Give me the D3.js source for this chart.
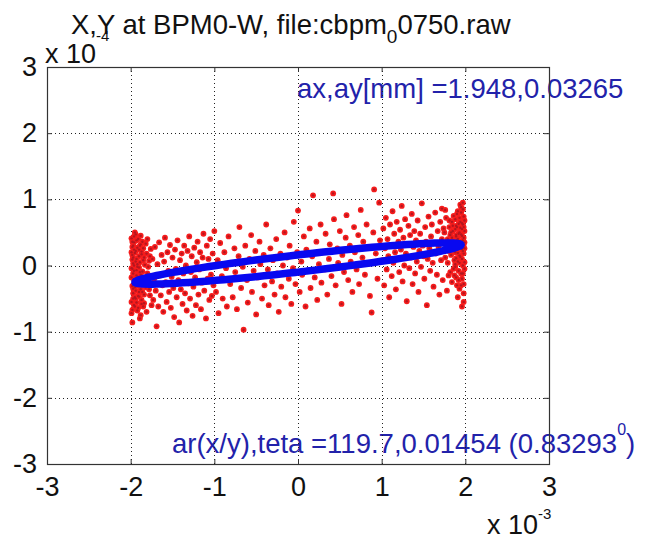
<!DOCTYPE html>
<meta charset="utf-8">
<html>
    <head>
        <script src="https://d3js.org/d3.v7.min.js"></script>
    </head>
    <style>
        body { margin: 0; background: #fff; }
        text { font-family: "Liberation Sans", Arial, sans-serif; }
    </style>
    <body>

        <div id="bpm_viz"></div>

        <script>

            // axis ticks (x in units of 1e-3, y in units of 1e-4)
            var xTicks = [-3, -2, -1, 0, 1, 2, 3]
            var yTicks = [-3, -2, -1, 0, 1, 2, 3]

            // BPM readings, [x, y] (x * 1e-3, y * 1e-4)
            var leftEdge = [
                [-1.98,-0.31],[-1.97,0.12],[-1.99,-0.55],[-1.96,-0.08],[-1.95,0.50],[-1.98,0.28],[-1.97,-0.42],[-1.99,-0.18],[-1.96,0.35],[-1.98,-0.67],
                [-1.95,-0.25],[-1.97,0.03],[-1.99,0.20],[-1.96,-0.60],[-1.98,-0.05],[-1.94,0.22],[-1.97,-0.35],[-1.99,0.41],[-1.95,-0.48],[-1.98,0.09],
                [-1.93,-0.15],[-1.96,0.44],[-1.99,-0.72],[-1.94,-0.38],[-1.97,0.30],[-1.92,-0.02],[-1.95,-0.62],[-1.98,0.16],[-1.93,0.38],[-1.96,-0.21],
                [-1.91,-0.46],[-1.94,0.06],[-1.97,-0.12],[-1.92,0.27],[-1.95,-0.33],[-1.90,0.14],[-1.93,-0.56],[-1.96,0.00],[-1.91,-0.26],[-1.94,0.47],
                [-1.89,-0.10],[-1.92,-0.68],[-1.95,0.19],[-1.90,-0.40],[-1.93,0.10],[-1.88,0.32],[-1.91,-0.18],[-1.94,-0.50],[-1.89,0.05],[-1.92,-0.30],
                [-1.87,-0.58],[-1.90,0.24],[-1.93,-0.07],[-1.88,-0.36],[-1.91,0.40],[-1.86,-0.22],[-1.89,-0.80],[-1.92,0.02],[-1.87,0.17],[-1.90,-0.47],
                [-1.85,0.08],[-1.88,-0.14],[-1.91,-0.64],[-1.86,0.36],[-1.89,-0.29],[-1.84,-0.44],[-1.87,0.21],[-1.90,-0.03],[-1.85,-0.62],[-1.88,0.45],
                [-1.83,-0.20],[-1.86,-0.09],[-1.89,0.30],[-1.84,0.12],[-1.87,-0.52],[-1.82,-0.33],[-1.85,0.26],[-1.88,-0.75],[-1.83,0.01],[-1.86,-0.40],
                [-1.81,0.18],[-1.84,-0.57],[-1.80,-0.12],[-1.82,0.33],[-1.79,-0.27],[-1.81,-0.70],[-1.78,0.07],[-1.80,0.40],[-1.77,-0.45],[-1.79,-0.02],
                [-1.76,0.25],[-1.78,-0.36],[-1.75,-0.60],[-1.77,0.14],[-1.76,-0.18],[-1.98,0.36],[-1.97,-0.50],[-1.99,-0.04],[-1.96,0.24],[-1.98,-0.86]
            ]

            var rightEdge = [
                [1.98,0.31],[1.97,0.62],[1.99,0.05],[1.96,0.45],[1.95,0.88],[1.98,0.18],[1.97,-0.12],[1.99,0.52],[1.96,0.25],[1.98,0.74],
                [1.95,-0.30],[1.97,0.38],[1.99,0.68],[1.96,0.10],[1.98,-0.42],[1.94,0.57],[1.97,0.22],[1.99,-0.05],[1.95,0.80],[1.98,0.42],
                [1.93,0.15],[1.96,-0.20],[1.99,0.35],[1.94,0.66],[1.97,0.00],[1.92,0.48],[1.95,0.28],[1.98,-0.28],[1.93,0.72],[1.96,0.55],
                [1.91,0.06],[1.94,0.36],[1.97,0.85],[1.92,-0.08],[1.95,0.47],[1.90,0.24],[1.93,-0.35],[1.96,0.64],[1.91,0.40],[1.94,0.13],
                [1.89,0.60],[1.92,0.30],[1.95,-0.12],[1.90,0.78],[1.93,0.50],[1.88,-0.02],[1.91,0.19],[1.94,0.92],[1.89,0.44],[1.92,-0.22],
                [1.87,0.34],[1.90,0.58],[1.93,0.04],[1.88,0.70],[1.91,-0.48],[1.86,0.26],[1.89,0.11],[1.92,0.63],[1.87,-0.15],[1.90,0.38],
                [1.85,0.52],[1.88,0.20],[1.91,0.82],[1.86,-0.05],[1.89,0.46],[1.84,0.66],[1.87,0.08],[1.90,-0.30],[1.85,0.33],[1.88,0.55],
                [1.83,0.16],[1.86,0.75],[1.89,-0.18],[1.84,0.42],[1.87,0.28],[1.82,-0.10],[1.85,0.60],[1.88,0.02],[1.83,0.50],[1.86,0.36],
                [1.81,0.68],[1.84,-0.25],[1.80,0.22],[1.82,0.46],[1.79,0.04],[1.81,0.58],[1.78,0.30],[1.80,-0.15],[1.77,0.72],[1.79,0.40],
                [1.76,0.12],[1.78,-0.38],[1.75,0.50],[1.77,0.26],[1.76,0.84],[1.98,-0.55],[1.97,0.95],[1.99,0.26],[1.96,-0.62],[1.98,0.58]
            ]

            var middle = [
                [-1.74,0.10],[-1.73,-0.52],[-1.72,-0.20],[-1.71,0.28],[-1.70,-0.38],[-1.69,-0.92],[-1.68,0.02],[-1.67,-0.62],[-1.66,0.35],[-1.65,-0.15],
                [-1.64,-0.45],[-1.63,0.16],[-1.62,-0.30],[-1.61,-0.70],[-1.60,0.06],[-1.59,0.42],[-1.58,-0.25],[-1.57,-0.55],[-1.56,0.20],[-1.55,-0.08],
                [-1.54,-0.40],[-1.53,0.31],[-1.52,-0.64],[-1.51,-0.17],[-1.50,0.12],[-1.49,-0.34],[-1.48,-0.78],[-1.47,0.24],[-1.46,-0.05],[-1.45,-0.48],
                [-1.44,0.38],[-1.43,-0.22],[-1.42,-0.86],[-1.41,0.08],[-1.40,-0.36],[-1.39,0.18],[-1.38,-0.58],[-1.37,-0.12],[-1.36,0.30],[-1.35,-0.42],
                [-1.34,0.00],[-1.33,-0.68],[-1.32,0.22],[-1.31,-0.27],[-1.30,0.44],[-1.29,-0.50],[-1.28,-0.10],[-1.27,0.14],[-1.26,-0.76],[-1.25,-0.32],
                [-1.24,0.27],[-1.23,-0.18],[-1.22,-0.60],[-1.21,0.05],[-1.20,0.36],[-1.19,-0.44],[-1.18,-0.06],[-1.17,0.20],[-1.16,-0.66],[-1.15,-0.26],
                [-1.14,0.12],[-1.13,0.48],[-1.12,-0.38],[-1.11,-0.02],[-1.10,-0.80],[-1.09,0.30],[-1.08,-0.20],[-1.07,0.10],[-1.06,-0.52],[-1.05,0.40],
                [-1.04,-0.14],[-1.03,-0.46],[-1.02,0.18],[-1.01,-0.30],[-1.00,0.52],
                [-0.98,-0.40],[-0.96,0.08],[-0.95,-0.72],[-0.93,0.34],[-0.91,-0.16],[-0.90,-0.50],[-0.88,0.20],[-0.86,-0.04],[-0.85,-0.62],[-0.83,0.44],
                [-0.81,-0.28],[-0.80,0.02],[-0.78,-0.48],[-0.76,0.26],[-0.75,-0.10],[-0.73,-0.66],[-0.71,0.14],[-0.70,0.58],[-0.68,-0.34],[-0.66,-0.02],
                [-0.65,-0.97],[-0.63,0.30],[-0.61,-0.22],[-0.60,-0.56],[-0.58,0.10],[-0.56,0.46],[-0.55,-0.40],[-0.53,-0.08],[-0.51,0.22],[-0.50,-0.74],
                [-0.48,-0.18],[-0.46,0.36],[-0.45,0.02],[-0.43,-0.50],[-0.41,0.16],[-0.40,-0.30],[-0.38,0.62],[-0.36,-0.06],[-0.35,-0.60],[-0.33,0.26],
                [-0.31,-0.24],[-0.30,0.08],[-0.28,-0.44],[-0.26,0.40],[-0.25,-0.12],[-0.23,-0.70],[-0.21,0.18],[-0.20,-0.32],[-0.18,0.00],[-0.16,0.50],
                [-0.15,-0.48],[-0.13,0.12],[-0.11,-0.20],[-0.10,0.30],[-0.08,-0.58],[-0.06,-0.04],[-0.05,0.66],[-0.03,-0.28],[-0.01,0.20],[0.00,0.83],
                [0.02,-0.40],[0.04,0.06],[0.05,-0.14],[0.07,0.44],[0.09,-0.62],[0.10,0.24],[0.12,-0.08],[0.14,0.56],[0.15,-0.34],[0.17,0.14],
                [0.18,1.06],[0.20,-0.18],[0.22,0.36],[0.23,-0.52],[0.25,0.02],[0.27,0.62],[0.28,-0.26],[0.30,0.20],[0.32,-0.06],[0.33,0.48],
                [0.35,-0.44],[0.37,0.10],[0.38,0.32],[0.40,-0.16],[0.42,1.09],[0.43,0.70],[0.45,-0.30],[0.47,0.26],[0.48,0.04],[0.50,0.52],
                [0.52,-0.58],[0.53,0.16],[0.55,-0.10],[0.57,0.42],[0.58,0.76],[0.60,-0.22],[0.62,0.30],[0.63,0.06],[0.65,-0.40],[0.67,0.58],
                [0.68,0.20],[0.70,-0.06],[0.72,0.46],[0.73,-0.28],[0.75,0.84],[0.77,0.12],[0.78,0.36],[0.80,-0.14],[0.82,0.62],[0.83,0.02],
                [0.85,0.28],[0.86,-0.46],[0.88,-0.71],[0.90,0.50],[0.91,1.15],[0.93,0.18],[0.95,-0.20],[0.97,0.95],[0.98,0.38],
                [1.01,0.08],[1.02,0.56],[1.03,-0.30],[1.04,0.26],[1.05,0.72],[1.06,-0.06],[1.07,0.40],[1.08,0.14],[1.09,-0.48],[1.10,0.62],
                [1.11,0.30],[1.12,-0.16],[1.13,0.82],[1.14,0.04],[1.15,0.48],[1.16,0.20],[1.17,-0.36],[1.18,0.66],[1.19,0.10],[1.20,0.36],
                [1.21,-0.10],[1.22,0.54],[1.23,0.24],[1.24,0.90],[1.25,-0.24],[1.26,0.42],[1.27,0.00],[1.28,0.70],[1.29,0.18],[1.30,-0.54],
                [1.31,0.32],[1.32,0.60],[1.33,-0.04],[1.34,0.46],[1.35,0.12],[1.36,0.78],[1.37,-0.28],[1.38,0.28],[1.39,0.52],[1.40,-0.12],
                [1.41,0.38],[1.42,0.06],[1.43,0.68],[1.44,-0.40],[1.45,0.22],[1.46,0.48],[1.47,-0.02],[1.48,0.94],[1.49,0.30],[1.50,0.14],
                [1.51,-0.20],[1.52,0.58],[1.53,0.36],[1.54,-0.60],[1.55,0.10],[1.56,0.74],[1.57,0.26],[1.58,-0.08],[1.59,0.44],[1.60,0.62],
                [1.61,0.04],[1.62,-0.32],[1.63,0.34],[1.64,0.80],[1.65,0.18],[1.66,-0.14],[1.67,0.52],[1.68,0.28],[1.69,-0.44],[1.70,0.66],
                [1.71,0.08],[1.72,0.40],[1.73,-0.22],[1.74,0.56],[1.72,0.86]
            ]

            // fitted ellipse as seen in the plot (same units as the points)
            var ellipseCenter = [0, 0.03]
            var ellipseAxes = [1.95, 0.13]   // half length along x, half width along y
            var ellipseTilt = 0.01454        // teta, rad

            var width = 646
            var height = 542
            var box = {left: 47, right: 549, top: 67, bottom: 464}

            var x = d3.scaleLinear().domain([-3, 3]).range([box.left, box.right])
            var y = d3.scaleLinear().domain([-3, 3]).range([box.bottom, box.top])

            var svg = d3.select("#bpm_viz")
                .append("svg")
                .attr("width", width)
                .attr("height", height)

            svg.append("rect")
                .attr("width", width)
                .attr("height", height)
                .attr("fill", "#fff")

            // text labels inside the axes (drawn first, the grid sits over them)
            var blue = "#2222aa"
            svg.append("text")
                .attr("x", 297)
                .attr("y", 98)
                .attr("font-size", 27.5)
                .attr("fill", blue)
                .text("ax,ay[mm] =1.948,0.03265")

            var ann2 = svg.append("text")
                .attr("x", 172)
                .attr("y", 453)
                .attr("font-size", 27.5)
                .attr("fill", blue)
            ann2.append("tspan").text("ar(x/y),teta =119.7,0.01454 (0.83293")
            ann2.append("tspan").attr("font-size", 16).attr("dy", -18).text("0")
            ann2.append("tspan").attr("dy", 18).text(")")

            // grid
            var grid = svg.append("g")
                .attr("stroke", "#222")
                .attr("stroke-width", 1)
                .attr("stroke-dasharray", "1,3")
            grid.selectAll(".gx")
                .data(xTicks.slice(1, -1))
                .join("line")
                .attr("x1", d => Math.round(x(d)) + 0.5)
                .attr("x2", d => Math.round(x(d)) + 0.5)
                .attr("y1", box.top)
                .attr("y2", box.bottom)
            grid.selectAll(".gy")
                .data(yTicks.slice(1, -1))
                .join("line")
                .attr("class", "gy")
                .attr("y1", d => Math.round(y(d)) + 0.5)
                .attr("y2", d => Math.round(y(d)) + 0.5)
                .attr("x1", box.left)
                .attr("x2", box.right)

            // points
            var points = leftEdge.concat(middle, rightEdge)
            var dots = svg.append("g")
            dots.selectAll("circle")
                .data(points)
                .join("circle")
                .attr("cx", d => x(d[0]))
                .attr("cy", d => y(d[1]))
                .attr("r", 2.9)
                .attr("fill", "#f51c1c")
            dots.selectAll(".core")
                .data(points)
                .join("circle")
                .attr("class", "core")
                .attr("cx", d => x(d[0]))
                .attr("cy", d => y(d[1]))
                .attr("r", 1.2)
                .attr("fill", "#b3161f")

            // ellipse outline, traced from its centre, axes and tilt
            var angles = d3.range(0, 361, 3).map(a => a * Math.PI / 180)
            var slope = Math.tan(ellipseTilt) * 10  // x in 1e-3, y in 1e-4
            var ellipse = angles.map(t => [
                ellipseCenter[0] + ellipseAxes[0] * Math.cos(t),
                ellipseCenter[1] + ellipseAxes[0] * Math.cos(t) * slope + ellipseAxes[1] * Math.sin(t)
            ])
            svg.append("path")
                .datum(ellipse)
                .attr("fill", "none")
                .attr("stroke", "#0808f0")
                .attr("stroke-width", 7.5)
                .attr("stroke-linejoin", "round")
                .attr("d", d3.line().x(d => x(d[0])).y(d => y(d[1])).curve(d3.curveCardinalClosed))

            // axes, ticks point inward
            var fontSize = 27
            var fmt = d => String(d)
            svg.append("g")
                .attr("transform", `translate(0,${box.bottom})`)
                .call(d3.axisBottom(x).tickValues(xTicks).tickFormat(fmt).tickSize(-5).tickPadding(13))
            svg.append("g")
                .attr("transform", `translate(${box.left},0)`)
                .call(d3.axisLeft(y).tickValues(yTicks).tickFormat(fmt).tickSize(-5).tickPadding(10))
            svg.append("g")
                .attr("transform", `translate(0,${box.top})`)
                .call(d3.axisTop(x).tickValues(xTicks).tickSize(-5).tickFormat(""))
            svg.append("g")
                .attr("transform", `translate(${box.right},0)`)
                .call(d3.axisRight(y).tickValues(yTicks).tickSize(-5).tickFormat(""))

            svg.selectAll(".domain").remove()
            svg.selectAll(".tick line").attr("stroke", "#333")
            svg.selectAll(".tick text")
                .attr("font-size", fontSize)
                .attr("font-family", "Liberation Sans, Arial, sans-serif")
                .attr("fill", "#111")

            svg.append("rect")
                .attr("x", box.left + 0.5)
                .attr("y", box.top + 0.5)
                .attr("width", box.right - box.left)
                .attr("height", box.bottom - box.top)
                .attr("fill", "none")
                .attr("stroke", "#333")
                .attr("stroke-width", 1.2)

            // exponent labels
            var ex1 = svg.append("text")
                .attr("x", 45)
                .attr("y", 63)
                .attr("font-size", fontSize)
                .attr("fill", "#111")
            ex1.append("tspan").text("x 10")
            ex1.append("tspan").attr("font-size", 15).attr("dy", -22).text("-4")

            var ex2 = svg.append("text")
                .attr("x", 487)
                .attr("y", 534)
                .attr("font-size", fontSize)
                .attr("fill", "#111")
            ex2.append("tspan").text("x 10")
            ex2.append("tspan").attr("font-size", 15).attr("dy", -15).text("-3")

            // title
            var title = svg.append("text")
                .attr("x", 71)
                .attr("y", 34)
                .attr("font-size", 27.5)
                .attr("fill", "#111")
            title.append("tspan").text("X,Y at BPM0-W, file:cbpm")
            title.append("tspan").attr("font-size", 19).attr("dy", 9).text("0")
            title.append("tspan").attr("dy", -9).text("0750.raw")

        </script>
    </body>
</html>
